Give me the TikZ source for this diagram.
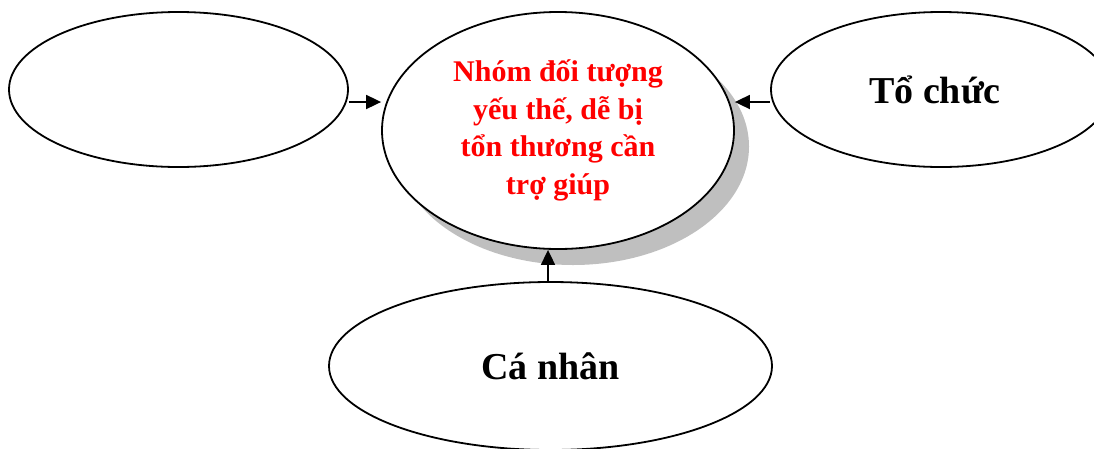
\documentclass[tikz,border=0pt]{standalone}
\usepackage{fontspec}
\setmainfont{Liberation Serif}
\usetikzlibrary{shapes.geometric,arrows.meta}
\tikzset{
  oval/.style={ellipse, draw=black, line width=1.8pt, fill=white, inner sep=0pt},
  shade oval/.style={ellipse, fill=black!25, inner sep=0pt},
  arr/.style={line width=1.8pt, -{Triangle[length=15pt,width=14pt]}},
  bigtext/.style={font=\fontsize{38}{44}\selectfont\bfseries},
  redtext/.style={font=\fontsize{30}{37.5}\selectfont\bfseries, text=red, align=center}
}
\begin{document}
\begin{tikzpicture}[x=1pt,y=-1pt]
\useasboundingbox (0,0) rectangle (1094,448);
% drop shadow of the central ellipse
\node[shade oval, minimum width=352pt, minimum height=237pt] (Cs) at (573,146.5) {};
% ellipses
\node[oval, minimum width=339pt, minimum height=155pt] (L) at (178.5,89.5) {};
\node[oval, minimum width=352pt, minimum height=237pt, redtext] (C) at (558,130.5)
  {Nhóm đối tượng\\yếu thế, dễ bị\\tổn thương cần\\trợ giúp};
\node[oval, minimum width=340pt, minimum height=155pt,
  label={[bigtext, xshift=-6pt]center:Tổ chức}] (R) at (941,89.5) {};
\node[oval, minimum width=443pt, minimum height=168pt, bigtext] (B) at (550.5,366) {Cá nhân};
% connectors
\draw[arr] ([yshift=-12.5pt]L.east) -- ([yshift=-12.5pt]L.east -| C.west);
\draw[arr] ([yshift=-12.5pt]R.west) -- ([yshift=-12.5pt]R.west -| C.east);
\draw[arr] ([xshift=-2.5pt]B.north) -- ([xshift=-2.5pt]B.north |- C.south);
\end{tikzpicture}
\end{document}
